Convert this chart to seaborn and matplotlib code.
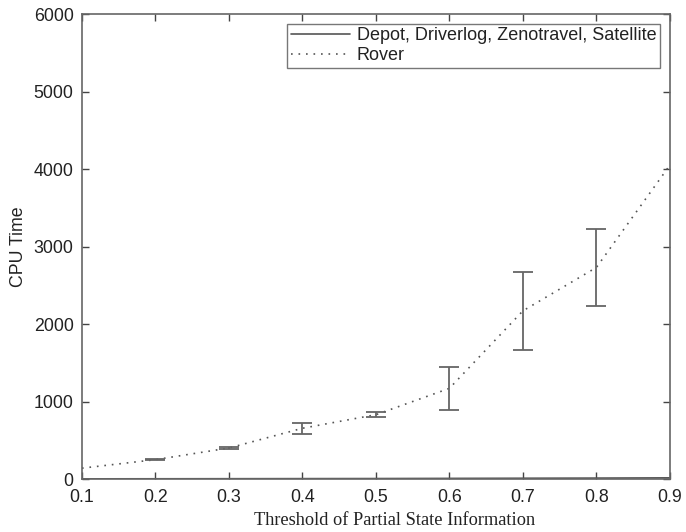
import matplotlib
matplotlib.use("Agg")
import matplotlib.pyplot as plt
import seaborn as sns
import numpy as np
import pandas as pd

thresholds = [0.1, 0.2, 0.3, 0.4, 0.5, 0.6, 0.7, 0.8, 0.9]
others_cpu = [2, 3, 4, 5, 6, 8, 10, 12, 15]
rover_cpu = [140, 250, 400, 655, 830, 1170, 2170, 2730, 4050]
rover_err = [0, 10, 15, 70, 30, 275, 500, 500, 0]

sns.set_theme(style="white")
plt.rcParams['font.family'] = ['Liberation Sans', 'DejaVu Sans']

df = pd.DataFrame({
    "x": thresholds * 2,
    "y": others_cpu + rover_cpu,
    "series": ["Depot, Driverlog, Zenotravel, Satellite"] * len(thresholds) + ["Rover"] * len(thresholds),
})

fig = plt.figure(figsize=(6.86, 5.32), dpi=100)
ax = fig.add_axes([0.1195, 0.0996, 0.857, 0.874])

col = "#555555"
sns.lineplot(data=df, x="x", y="y", hue="series", style="series",
             palette=[col, col], dashes=[(None, None), (1, 3)],
             linewidth=1.2, ax=ax, legend=True)
ax.lines[1].set_linestyle((0, (1, 3.5)))

ex = np.array(thresholds)
ey = np.array(rover_cpu)
ee = np.array(rover_err)
m = ee > 0
ax.errorbar(ex[m], ey[m], yerr=ee[m], fmt="none", ecolor="#666666",
            elinewidth=1.3, capsize=7, capthick=1.3)

ax.set_xlim(0.1, 0.9)
ax.set_ylim(0, 6000)
ax.set_xticks(thresholds)
ax.set_xticklabels([f"{t:.1f}" for t in thresholds])
ax.set_yticks([0, 1000, 2000, 3000, 4000, 5000, 6000])
ax.tick_params(direction="in", length=5, width=1, colors="#444444", labelsize=12.8,
               top=True, right=True, bottom=True, left=True, labelcolor="#222222")
ax.tick_params(axis="x", pad=7)
ax.tick_params(axis="y", pad=6)
for s in ax.spines.values():
    s.set_color("#666666")
    s.set_linewidth(1.2)
    s.set_visible(True)

ax.set_ylabel("CPU Time", fontsize=12.8, color="#222222")
ax.yaxis.set_label_coords(-0.094, 0.5)
ax.set_xlabel("Threshold of Partial State Information", fontsize=13.2,
              family=["Liberation Serif", "DejaVu Serif"], color="#222222")
ax.xaxis.set_label_coords(0.532, -0.071)

leg = ax.legend(loc="upper right", fontsize=13, frameon=True, fancybox=False,
                edgecolor="#555555", borderpad=0.2, labelspacing=0.15,
                handlelength=3.3, handletextpad=0.35, borderaxespad=0,
                bbox_to_anchor=(0.983, 0.979))
leg.get_frame().set_linewidth(1.0)
for t in leg.get_texts():
    t.set_color("#222222")
for l in leg.get_lines():
    l.set_color(col)
leg.get_lines()[1].set_linestyle((0, (1, 3.5)))

fig.savefig("out.png", dpi=100, facecolor="white")
